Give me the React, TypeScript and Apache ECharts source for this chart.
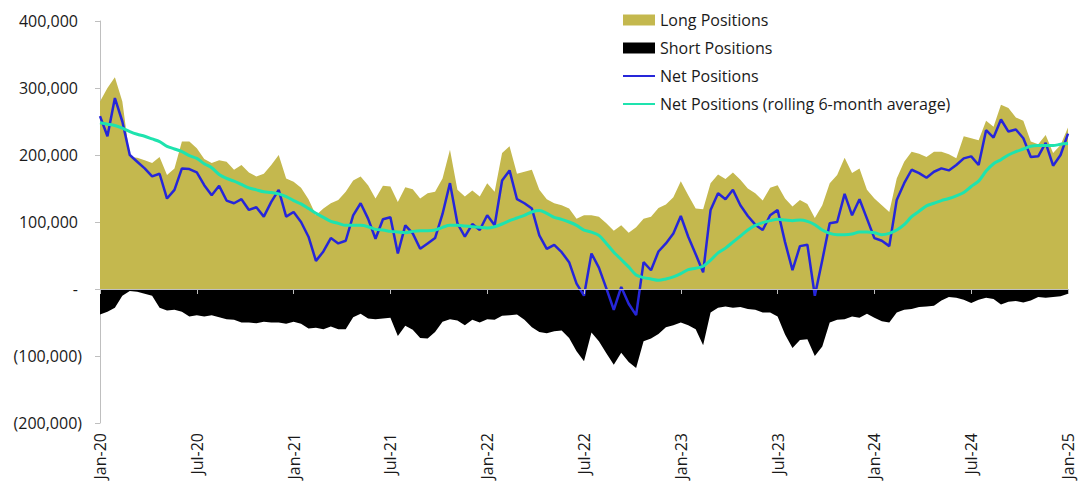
import React, { useEffect, useRef } from "react";
import * as echarts from "echarts";

// Tick labels
const xTickLabels = ["Jan-20", "Jul-20", "Jan-21", "Jul-21", "Jan-22", "Jul-22", "Jan-23", "Jul-23", "Jan-24", "Jul-24", "Jan-25"];
const yTickLabels = ["(200,000)", "(100,000)", "-", "100,000", "200,000", "300,000", "400,000"];

// Fortnightly readings, Jan-2020 .. Dec-2024, in thousands of contracts
const longPositions = [
  280, 300, 316, 280, 197, 196, 192, 188, 197, 170, 180, 220, 220, 210, 194, 188, 192, 190, 178, 185, 174, 168, 172,
  185, 200, 165, 160, 151, 134, 110, 120, 128, 133, 145, 162, 168, 155, 135, 154, 153, 130, 152, 149, 135, 143, 145,
  165, 208, 148, 138, 147, 138, 158, 145, 203, 213, 172, 175, 178, 148, 134, 128, 125, 120, 105, 110, 110, 108,
  98, 87, 95, 84, 92, 105, 108, 121, 126, 137, 161, 140, 120, 119, 158, 171, 164, 174, 163, 150, 143, 132,
  151, 155, 135, 123, 133, 127, 106, 125, 158, 170, 196, 173, 180, 148, 135, 125, 115, 165, 190, 205, 202, 197, 205,
  205, 201, 195, 228, 225, 222, 251, 242, 275, 270, 256, 251, 220, 216, 230, 203, 215, 241,
];

const shortPositions = [
  -38, -34, -28, -10, -3, -4, -7, -10, -28, -32, -31, -34, -41, -39, -41, -39, -42, -45, -46, -50, -50, -51, -49,
  -50, -50, -52, -49, -52, -59, -58, -60, -56, -60, -60, -42, -37, -44, -45, -44, -43, -70, -55, -61, -73, -74, -64,
  -49, -45, -47, -54, -46, -50, -45, -46, -40, -39, -38, -46, -57, -64, -66, -63, -62, -73, -93, -108, -65, -78,
  -96, -113, -95, -109, -118, -78, -74, -67, -57, -54, -50, -54, -60, -84, -35, -28, -26, -28, -27, -30, -31, -35,
  -35, -41, -68, -88, -76, -75, -100, -86, -50, -46, -45, -41, -43, -37, -43, -48, -50, -35, -31, -30, -27, -26, -25,
  -17, -12, -13, -16, -21, -16, -13, -15, -23, -19, -18, -20, -17, -12, -13, -12, -11, -7,
];

const netPositions = [
  258, 228, 285, 250, 200, 190, 180, 168, 172, 135, 148, 180, 179, 174, 155, 140, 154, 132, 128, 134, 118, 122, 108,
  130, 148, 108, 115, 100, 78, 42, 56, 76, 68, 72, 110, 128, 105, 75, 104, 107, 53, 95, 83, 60, 68, 76,
  112, 158, 98, 78, 97, 88, 110, 95, 162, 177, 134, 128, 120, 80, 60, 66, 55, 40, 8, -10, 53, 32,
  1, -31, 3, -22, -39, 40, 28, 56, 68, 83, 109, 78, 52, 25, 118, 143, 134, 148, 125, 109, 96, 88,
  110, 118, 70, 28, 64, 66, -10, 43, 98, 100, 142, 110, 134, 105, 76, 72, 64, 133, 158, 178, 173, 166, 175,
  180, 177, 185, 195, 198, 185, 237, 226, 253, 235, 238, 225, 197, 198, 218, 184, 200, 232,
];

const netRolling6m = [
  248, 246, 244, 240, 235, 231, 228, 224, 220, 213, 209, 205, 199, 195, 187, 181, 171, 165, 161, 156, 151, 148, 145,
  144, 142, 138, 132, 127, 120, 113, 107, 101, 98, 95, 95, 95, 93, 89, 88, 86, 85, 84, 86, 87, 87, 88,
  92, 95, 95, 94, 93, 92, 91, 93, 97, 102, 106, 110, 115, 117, 113, 107, 104, 100, 95, 88, 85, 80,
  68, 55, 44, 33, 21, 17, 15, 13, 15, 18, 23, 29, 31, 34, 43, 54, 61, 70, 79, 88, 95, 99,
  102, 104, 103, 102, 103, 101, 96, 88, 83, 81, 81, 82, 85, 85, 84, 81, 83, 88, 96, 108, 116, 124, 128,
  132, 135, 139, 144, 153, 161, 176, 187, 193, 200, 205, 209, 213, 214, 214, 214, 216, 217,
];

const OLIVE = "#C4B84E";
const BLUE = "#2626D9";
const TEAL = "#1EE3AE";
const AXIS_GREY = "#BFBFBF";
const TEXT = "#1a1a1a";
const FONT = "Open Sans";

export default function App() {
  const ref = useRef<HTMLDivElement>(null);

  useEffect(() => {
    if (!ref.current) return;
    const chart = echarts.init(ref.current, null, { renderer: "svg" });
    const n = longPositions.length;
    // months elapsed since Jan-2020 for each fortnightly observation
    const months = longPositions.map((_, i) => (i * 60) / (n - 1));
    const pairs = (arr: number[]) => arr.map((v, i) => [months[i], v * 1000]);

    chart.setOption({
      animation: false,
      textStyle: { fontFamily: FONT },
      grid: { left: 100, right: 18, top: 21, bottom: 66, containLabel: false },
      legend: {
        orient: "vertical",
        left: 623,
        top: 10,
        padding: 0,
        itemWidth: 32,
        itemHeight: 11,
        itemGap: 8,
        selectedMode: false,
        textStyle: { fontFamily: FONT, fontSize: 16, color: TEXT, lineHeight: 20 },
        data: [
          { name: "Long Positions", icon: "rect" },
          { name: "Short Positions", icon: "rect" },
          { name: "Net Positions", icon: "path://M0,0H32V2H0Z" },
          { name: "Net Positions (rolling 6-month average)", icon: "path://M0,0H32V2H0Z" },
        ],
      },
      xAxis: [
        {
          type: "value",
          min: 0,
          max: 60,
          interval: 6,
          position: "bottom",
          axisLine: { show: false, onZero: false },
          axisTick: { show: false },
          splitLine: { show: false },
          axisLabel: {
            rotate: 90,
            margin: 10,
            fontSize: 16,
            fontFamily: FONT,
            color: TEXT,
            formatter: (v: number) => xTickLabels[Math.round(v / 6)] ?? "",
          },
        },
        {
          type: "value",
          min: 0,
          max: 60,
          interval: 6,
          position: "bottom",
          z: 10,
          axisLine: { show: true, onZero: true, lineStyle: { color: AXIS_GREY, width: 1 } },
          axisTick: { show: true, length: 5, lineStyle: { color: AXIS_GREY } },
          axisLabel: { show: false },
          splitLine: { show: false },
        },
      ],
      yAxis: {
        type: "value",
        min: -200000,
        max: 400000,
        interval: 100000,
        axisLine: { show: true, lineStyle: { color: AXIS_GREY } },
        axisTick: { show: true, length: 5, lineStyle: { color: AXIS_GREY } },
        splitLine: { show: false },
        axisLabel: {
          margin: 18,
          fontSize: 16,
          fontFamily: FONT,
          color: TEXT,
          formatter: (v: number) => {
            const label = yTickLabels[Math.round((v + 200000) / 100000)] ?? "";
            return v < 0 ? label : "{p|" + label + "}";
          },
          rich: { p: { padding: [0, 4, 0, 0], fontSize: 16, fontFamily: FONT, color: TEXT } },
        },
      },
      series: [
        {
          name: "Long Positions",
          type: "line",
          xAxisIndex: 0,
          data: pairs(longPositions),
          symbol: "none",
          lineStyle: { width: 0, color: OLIVE },
          itemStyle: { color: OLIVE },
          areaStyle: { color: OLIVE, opacity: 1 },
          z: 1,
        },
        {
          name: "Short Positions",
          type: "line",
          xAxisIndex: 0,
          data: pairs(shortPositions),
          symbol: "none",
          lineStyle: { width: 0, color: "#000" },
          itemStyle: { color: "#000" },
          areaStyle: { color: "#000", opacity: 1 },
          z: 1,
        },
        {
          name: "Net Positions",
          type: "line",
          xAxisIndex: 0,
          data: pairs(netPositions),
          symbol: "none",
          lineStyle: { width: 2.5, color: BLUE },
          itemStyle: { color: BLUE },
          z: 3,
        },
        {
          name: "Net Positions (rolling 6-month average)",
          type: "line",
          xAxisIndex: 0,
          data: pairs(netRolling6m),
          symbol: "none",
          smooth: 0.3,
          lineStyle: { width: 3, color: TEAL },
          itemStyle: { color: TEAL },
          z: 4,
        },
      ],
    });

    return () => chart.dispose();
  }, []);

  return (
    <div
      ref={ref}
      style={{ position: "absolute", left: 0, top: 0, width: 1086, height: 489, background: "#fff" }}
    />
  );
}
